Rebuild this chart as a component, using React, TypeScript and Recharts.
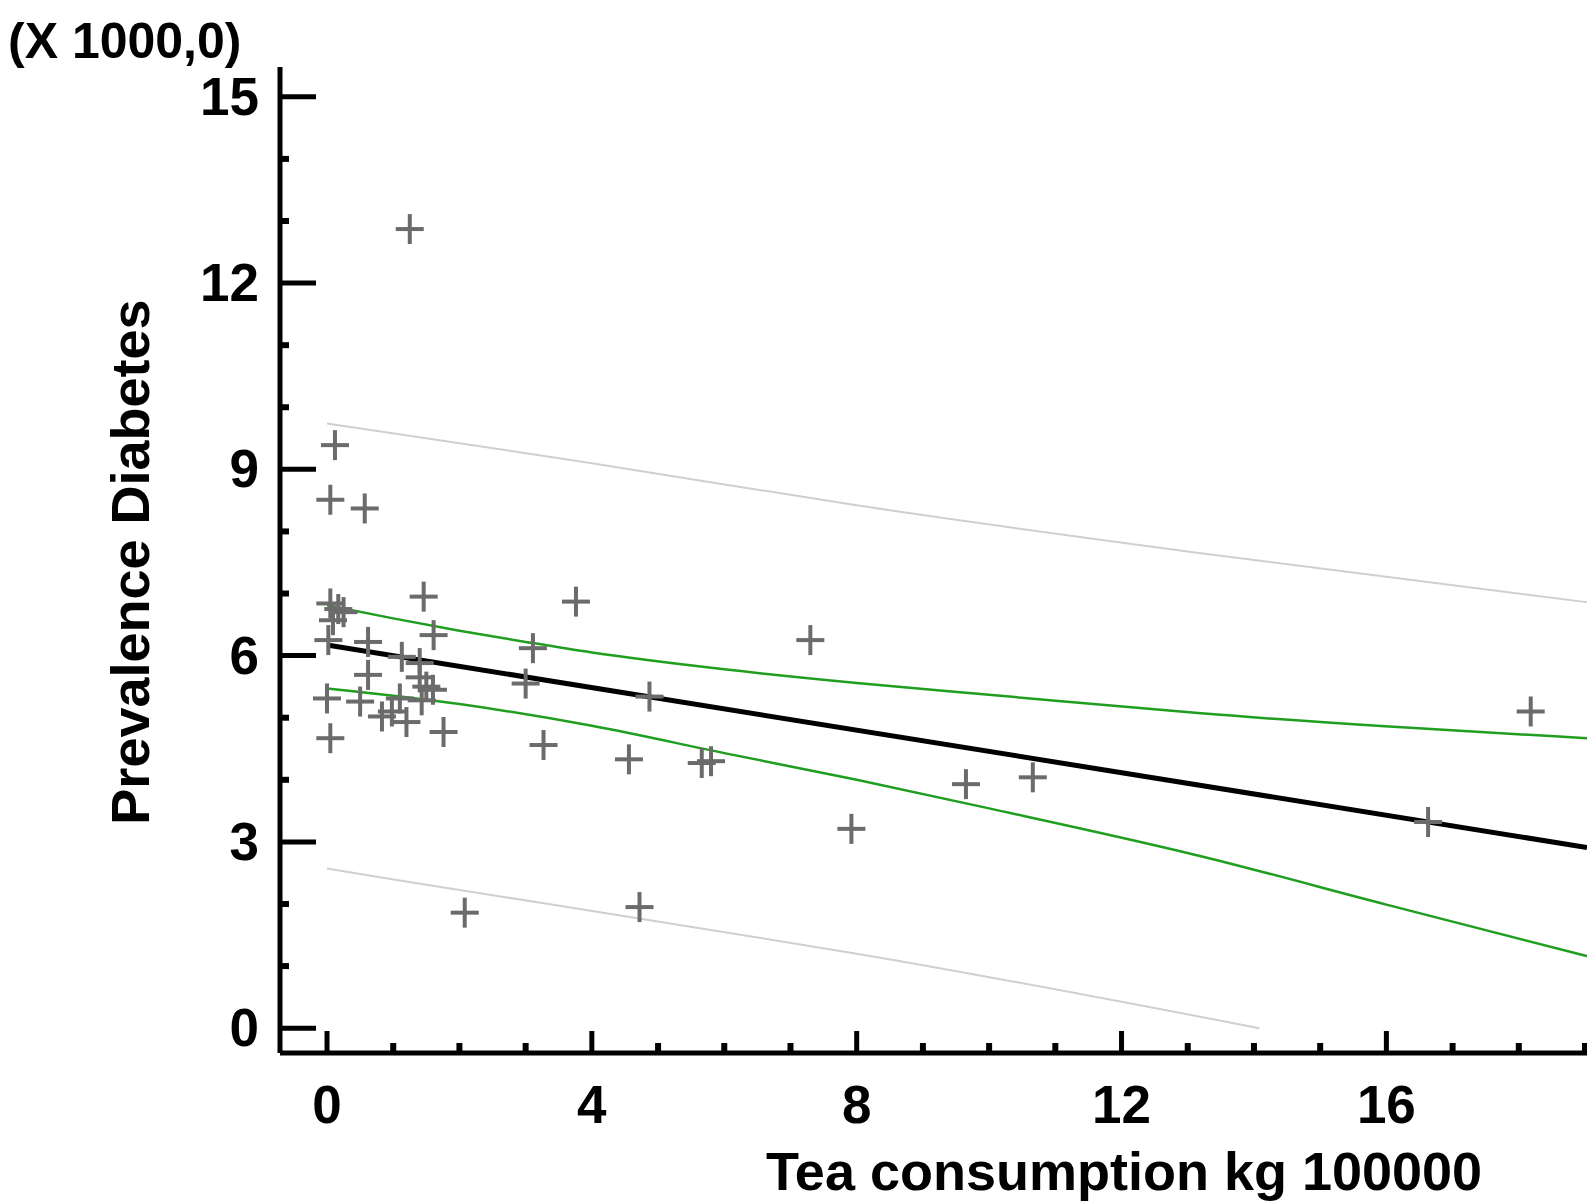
import { ComposedChart, Line, Scatter, XAxis, YAxis, Label } from 'recharts';

// observed points (tea consumption, prevalence)
const teaX = [
  0.12, 0.05, 0.57, 1.46, 0.05, 0.17, 0.25, 0.09, 1.61, 0.02, 0.62, 1.13, 1.4, 0.62, 1.4, 1.5, 1.6,
  0.0, 0.5, 1.1, 1.43, 0.83, 0.98, 1.2, 0.05, 1.76, 1.25, 3.76, 3.11, 3.0, 3.27, 4.56, 4.87, 5.66,
  5.8, 7.3, 7.92, 9.65, 10.66, 16.63, 18.18, 2.08, 4.72,
];
const prevalence = [
  9.39, 8.51, 8.37, 6.95, 6.84, 6.75, 6.7, 6.57, 6.33, 6.25, 6.22, 5.98, 5.88, 5.69, 5.65, 5.5, 5.45,
  5.31, 5.26, 5.31, 5.28, 5.02, 5.1, 4.93, 4.67, 4.77, 12.87, 6.87, 6.12, 5.55, 4.56, 4.33, 5.34, 4.27,
  4.3, 6.25, 3.21, 3.93, 4.04, 3.32, 5.1, 1.86, 1.95,
];

// fitted model and bands
const fitX = [0, 19.03];
const fitY = [6.17, 2.91];
const confX = [0, 1, 2, 3, 4, 6, 8, 10, 13.2, 19.03];
const confUpper = [6.81, 6.6, 6.4, 6.22, 6.05, 5.78, 5.56, 5.37, 5.07, 4.67];
const confLowX = [0, 2, 4, 6, 8, 10, 13.2, 16, 19.03];
const confLower = [5.47, 5.22, 4.87, 4.43, 4.0, 3.54, 2.77, 1.99, 1.16];
const predUpX = [0, 4, 8, 13.2, 19.03];
const predUpper = [9.74, 9.1, 8.42, 7.65, 6.86];
const predLowX = [0, 1.1, 5.63, 8, 14.08];
const predLower = [2.57, 2.38, 1.61, 1.2, 0.0];

const xTicks = Array.from({ length: 20 }, (_, i) => i);
const yTicks = Array.from({ length: 16 }, (_, i) => i);

const zip = (xs: number[], ys: number[]) => xs.map((x, i) => ({ x, y: ys[i] }));

const points = zip(teaX, prevalence);
const fitLine = zip(fitX, fitY);
const confUp = zip(confX, confUpper);
const confLow = zip(confLowX, confLower);
const predUp = zip(predUpX, predUpper);
const predLow = zip(predLowX, predLower);

const W = 1587;
const H = 1203;
const AXIS_X = 280;
const AXIS_Y = 1053;
const FONT = '"Liberation Sans", Arial, sans-serif';

const YTick = (props: any) => {
  const { y, payload } = props;
  const major = payload.value % 3 === 0;
  return (
    <g>
      <line x1={AXIS_X} x2={AXIS_X + (major ? 36 : 9)} y1={y} y2={y} stroke="#000" strokeWidth={major ? 5 : 6} />
      {major && (
        <text x={259} y={y + 18} textAnchor="end" fontFamily={FONT} fontWeight="bold" fontSize={53} fill="#000">
          {payload.value}
        </text>
      )}
    </g>
  );
};

const XTick = (props: any) => {
  const { x, payload } = props;
  const major = payload.value % 4 === 0;
  return (
    <g>
      <line x1={x} x2={x} y1={AXIS_Y} y2={AXIS_Y - (major ? 22 : 10)} stroke="#000" strokeWidth={major ? 5 : 6} />
      {major && (
        <text x={x} y={1123} textAnchor="middle" fontFamily={FONT} fontWeight="bold" fontSize={53} fill="#000">
          {payload.value}
        </text>
      )}
    </g>
  );
};

const Cross = (props: any) => {
  const { cx, cy } = props;
  return (
    <g stroke="#6b6b6b" strokeWidth={4}>
      <line x1={cx - 14} x2={cx + 14} y1={cy} y2={cy} />
      <line x1={cx} x2={cx} y1={cy - 15} y2={cy + 15} />
    </g>
  );
};

export default function App() {
  return (
    <div style={{ position: 'absolute', left: 0, top: 0, background: '#fff' }}>
      <ComposedChart width={W} height={H} margin={{ top: 67, right: 0, bottom: 0, left: 0 }}>
        <XAxis
          type="number"
          dataKey="x"
          domain={[-0.71, 19.03]}
          ticks={xTicks}
          interval={0}
          allowDataOverflow
          height={150}
          tickLine={false}
          axisLine={{ stroke: '#000', strokeWidth: 5 }}
          tick={(p: any) => <XTick {...p} />}
        >
          <Label
            content={() => (
              <text x={1124} y={1190} textAnchor="middle" fontFamily={FONT} fontWeight="bold" fontSize={54} fill="#000">
                Tea consumption kg 100000
              </text>
            )}
          />
        </XAxis>
        <YAxis
          type="number"
          dataKey="y"
          domain={[-0.4, 15.48]}
          ticks={yTicks}
          interval={0}
          allowDataOverflow
          width={AXIS_X}
          tickLine={false}
          axisLine={{ stroke: '#000', strokeWidth: 5 }}
          tick={(p: any) => <YTick {...p} />}
        >
          <Label
            content={() => (
              <g>
                <text
                  x={130}
                  y={562}
                  transform="rotate(-90 130 562)"
                  textAnchor="middle"
                  dominantBaseline="central"
                  fontFamily={FONT}
                  fontWeight="bold"
                  fontSize={54}
                  fill="#000"
                >
                  Prevalence Diabetes
                </text>
                <text x={8} y={58} fontFamily={FONT} fontWeight="bold" fontSize={50} fill="#000">
                  (X 1000,0)
                </text>
              </g>
            )}
          />
        </YAxis>
        <Line data={predUp} dataKey="y" type="monotone" stroke="#cfcfcf" strokeWidth={2} dot={false} isAnimationActive={false} />
        <Line data={predLow} dataKey="y" type="monotone" stroke="#cfcfcf" strokeWidth={2} dot={false} isAnimationActive={false} />
        <Line data={confUp} dataKey="y" type="monotone" stroke="#1f9e1f" strokeWidth={2.5} dot={false} isAnimationActive={false} />
        <Line data={confLow} dataKey="y" type="monotone" stroke="#1f9e1f" strokeWidth={2.5} dot={false} isAnimationActive={false} />
        <Scatter data={points} dataKey="y" shape={(p: any) => <Cross {...p} />} isAnimationActive={false} />
        <Line data={fitLine} dataKey="y" stroke="#000" strokeWidth={5} dot={false} isAnimationActive={false} />
      </ComposedChart>
    </div>
  );
}
